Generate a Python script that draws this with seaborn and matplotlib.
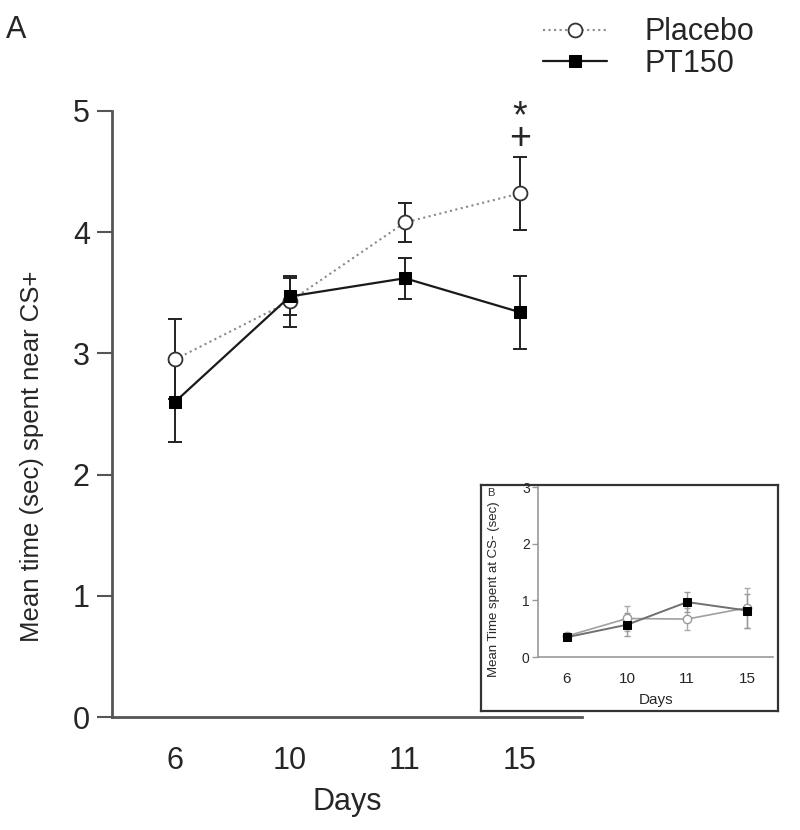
import numpy as np
import matplotlib.pyplot as plt
import seaborn as sns

days = ['6', '10', '11', '15']
placebo_mean = [2.95, 3.43, 4.08, 4.32]
placebo_sem = [0.33, 0.21, 0.16, 0.30]
pt150_mean = [2.60, 3.47, 3.62, 3.34]
pt150_sem = [0.33, 0.15, 0.17, 0.30]

# inset (B): time spent at CS-
inset_placebo_mean = [0.37, 0.68, 0.67, 0.87]
inset_placebo_sem = [0.03, 0.22, 0.20, 0.35]
inset_pt150_mean = [0.35, 0.57, 0.97, 0.82]
inset_pt150_sem = [0.03, 0.20, 0.18, 0.30]

sns.set_theme(style='white')
plt.rcParams['font.family'] = ['Liberation Sans', 'DejaVu Sans']

fig = plt.figure(figsize=(8, 8.3), dpi=100)
x = np.arange(len(days))

# main panel
ax = fig.add_axes([0.14, 0.1361, 0.5875, 0.7302])
sns.lineplot(x=x, y=placebo_mean, ax=ax, color='#8a8a8a', ls=':', lw=1.5,
             marker='o', markersize=10, markerfacecolor='white',
             markeredgecolor='#333333', markeredgewidth=1.3, label='Placebo', zorder=3)
sns.lineplot(x=x, y=pt150_mean, ax=ax, color='#1a1a1a', ls='-', lw=1.6,
             marker='s', markersize=9, markerfacecolor='black',
             markeredgecolor='black', label='PT150', zorder=4)
ax.errorbar(x, placebo_mean, yerr=placebo_sem, fmt='none', ecolor='#222222',
            elinewidth=1.4, capsize=5, capthick=1.4, zorder=2)
ax.errorbar(x, pt150_mean, yerr=pt150_sem, fmt='none', ecolor='#222222',
            elinewidth=1.4, capsize=5, capthick=1.4, zorder=2)

ax.set_xlim(-0.548, 3.54)
ax.set_ylim(0, 5)
ax.set_xticks(x)
ax.set_xticklabels(days)
ax.set_yticks([0, 1, 2, 3, 4, 5])
ax.tick_params(axis='y', left=True, length=11, width=1.5, color='#555555',
               labelsize=22, pad=5)
ax.tick_params(axis='x', bottom=False, labelsize=22, pad=15)
for s in ['top', 'right']:
    ax.spines[s].set_visible(False)
for s in ['left', 'bottom']:
    ax.spines[s].set_color('#555555')
    ax.spines[s].set_linewidth(2)
ax.set_xlabel('Days', fontsize=22, labelpad=8)
ax.set_ylabel('Mean time (sec) spent near CS+', fontsize=18.5)
ax.yaxis.set_label_coords(-0.145, 0.43)
# significance marks above day 15
ax.text(3, 4.86, '*\n+', ha='center', va='center', fontsize=27,
        linespacing=0.5)

handles, labels = ax.get_legend_handles_labels()
if ax.get_legend() is not None:
    ax.get_legend().remove()
fig.legend(handles, labels, loc='upper left', bbox_to_anchor=(0.679, 0.979),
           frameon=False, fontsize=22, handlelength=2.1, handletextpad=1.2,
           labelspacing=0.05, borderpad=0, borderaxespad=0)

fig.text(0.008, 0.964, 'A', fontsize=22, va='center', ha='left')

# inset frame
box = fig.add_axes([0.601, 0.1434, 0.371, 0.2723])
box.set_xticks([])
box.set_yticks([])
box.set_facecolor('white')
for s in box.spines.values():
    s.set_color('#333333')
    s.set_linewidth(1.6)
box.text(0.02, 0.985, 'B', transform=box.transAxes, fontsize=8, va='top',
         color='#333333')

# inset panel
ins = fig.add_axes([0.6725, 0.2084, 0.294, 0.2048])
ins.set_facecolor('none')
sns.lineplot(x=x, y=inset_placebo_mean, ax=ins, color='#a0a0a0', lw=1.2,
             marker='o', markersize=6, markerfacecolor='white',
             markeredgecolor='#999999', markeredgewidth=1, zorder=3)
sns.lineplot(x=x, y=inset_pt150_mean, ax=ins, color='#707070', lw=1.4,
             marker='s', markersize=6, markerfacecolor='black',
             markeredgecolor='black', zorder=4)
ins.errorbar(x, inset_placebo_mean, yerr=inset_placebo_sem, fmt='none',
             ecolor='#aaaaaa', elinewidth=1, capsize=2.5, capthick=1, zorder=2)
ins.errorbar(x, inset_pt150_mean, yerr=inset_pt150_sem, fmt='none',
             ecolor='#999999', elinewidth=1, capsize=2.5, capthick=1, zorder=2)
ins.set_xlim(-0.48, 3.43)
ins.set_ylim(0, 3)
ins.set_xticks(x)
ins.set_xticklabels(days)
ins.set_yticks([0, 1, 2, 3])
ins.tick_params(axis='y', left=True, length=4, width=1, color='#999999',
                labelsize=10, pad=2)
ins.tick_params(axis='x', bottom=False, labelsize=11, pad=5)
for s in ['top', 'right']:
    ins.spines[s].set_visible(False)
for s in ['left', 'bottom']:
    ins.spines[s].set_color('#999999')
    ins.spines[s].set_linewidth(1.2)
ins.set_xlabel('Days', fontsize=11, labelpad=5)
ins.set_ylabel('Mean Time spent at CS- (sec)', fontsize=9.5)
ins.yaxis.set_label_coords(-0.16, 0.40)

fig.savefig('out.png', dpi=100)
